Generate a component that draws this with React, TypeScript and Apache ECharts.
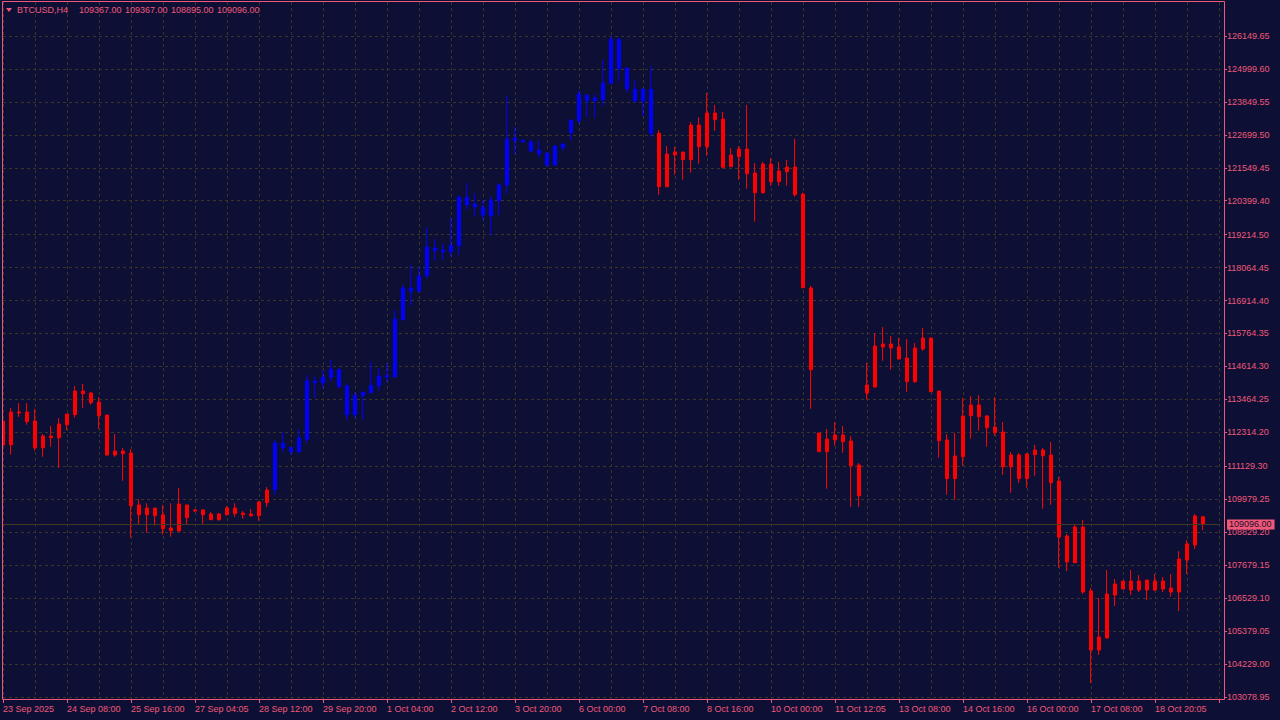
import React, { useEffect, useRef } from "react";
import * as echarts from "echarts";

// ---- data ----
const symbolName = "BTCUSD,H4";
const lastBarOHLC = ["109367.00", "109367.00", "108895.00", "109096.00"];
const currentPrice = 109096.0;

const timeLabels = [
  "23 Sep 2025", "24 Sep 08:00", "25 Sep 16:00", "27 Sep 04:05", "28 Sep 12:00",
  "29 Sep 20:00", "1 Oct 04:00", "2 Oct 12:00", "3 Oct 20:00", "6 Oct 00:00",
  "7 Oct 08:00", "8 Oct 16:00", "10 Oct 00:00", "11 Oct 12:05", "13 Oct 08:00",
  "14 Oct 16:00", "16 Oct 00:00", "17 Oct 08:00", "18 Oct 20:05",
];

const priceTicks = [
  126149.65, 124999.6, 123849.55, 122699.5, 121549.45, 120399.4, 119214.5,
  118064.45, 116914.4, 115764.35, 114614.3, 113464.25, 112314.2, 111129.3,
  109979.25, 108829.2, 107679.15, 106529.1, 105379.05, 104229.0, 103078.95,
];

// rows: [open, close, low, high]
const redBefore = [
  [112707, 111869, 111729, 112916], [111879, 113021, 111530, 113161],
  [113021, 112986, 112846, 113335], [113021, 112682, 112578, 113335],
  [112707, 111774, 111670, 113126], [111774, 112183, 111460, 112253],
  [112183, 112124, 111809, 112532], [112124, 112602, 111076, 112811],
  [112578, 112951, 112392, 112951], [112927, 113754, 112822, 113929],
  [113754, 113660, 113171, 113999], [113684, 113346, 113276, 113719],
  [113370, 112892, 112427, 113545], [112916, 111520, 111495, 112916],
  [111520, 111659, 111460, 112253], [111659, 111565, 110622, 111764],
  [111589, 109749, 108632, 111729], [109774, 109435, 109086, 109983],
  [109435, 109669, 108806, 109843], [109669, 109400, 109051, 109669],
  [109425, 108946, 108737, 109774], [108971, 108876, 108667, 109843],
  [108866, 109809, 108841, 110367], [109774, 109330, 109086, 109774],
  [109564, 109599, 109540, 109634], [109599, 109435, 109121, 109634],
  [109459, 109260, 109260, 109529], [109260, 109459, 109226, 109494],
  [109435, 109669, 109400, 109739], [109669, 109470, 109365, 109843],
  [109494, 109435, 109295, 109564], [109459, 109400, 109365, 109634],
  [109400, 109878, 109226, 109913], [109854, 110297, 109714, 110402],
];

const blueRun = [
  [110308, 111938, 110133, 112043], [111928, 111774, 111635, 112333],
  [111788, 111635, 111520, 111788], [111635, 112113, 111579, 112417],
  [112068, 114103, 111928, 114313], [114103, 114044, 113499, 114254],
  [114034, 114233, 113849, 114487], [114233, 114512, 114079, 114837],
  [114512, 113904, 113849, 114512], [113929, 112927, 112742, 114023],
  [112927, 113604, 112822, 113719], [113604, 113719, 112766, 113719],
  [113695, 113953, 113695, 114767], [113939, 114278, 113765, 114557],
  [114243, 114288, 114044, 114732], [114243, 116258, 114243, 116582],
  [116244, 117351, 116244, 117445], [117351, 117246, 116733, 118154],
  [117246, 117770, 117187, 118094], [117780, 118782, 117675, 119456],
  [118747, 118653, 118304, 119051], [118678, 118618, 118328, 118911],
  [118618, 118842, 118444, 119805], [118828, 120518, 118503, 120587],
  [120518, 120249, 120074, 121017], [120284, 120179, 119840, 120657],
  [120168, 119900, 119725, 120423], [119875, 120423, 119201, 120539],
  [120399, 120947, 119900, 121006], [120947, 122543, 120633, 124055],
  [122494, 122588, 122019, 122962], [122494, 122449, 122424, 122543],
  [122449, 122134, 122099, 122543], [122169, 122040, 121914, 122494],
  [122054, 121645, 121576, 122099], [121645, 122309, 121645, 122344],
  [122249, 122379, 122145, 122403], [122773, 123217, 122494, 123217],
  [123192, 124125, 123077, 124264], [124079, 123891, 123311, 124125],
  [123891, 123985, 123287, 124125], [123926, 124498, 123706, 125312],
  [124498, 126035, 124498, 126150], [126035, 125008, 124554, 126104],
  [125032, 124310, 124170, 125057], [124289, 123880, 123821, 124613],
  [123880, 124289, 123356, 124324], [124289, 122752, 122613, 125102],
];

const redAfter = [
  [122752, 120888, 120608, 122868], [120888, 122030, 120888, 122309],
  [121995, 122099, 121307, 122284], [122099, 121831, 121132, 122099],
  [121831, 123042, 121377, 123147], [123042, 122284, 121691, 123311],
  [122284, 123461, 121970, 124159], [123461, 123227, 122843, 123740],
  [123252, 121565, 121516, 123496], [121586, 121995, 121586, 122239],
  [121935, 122204, 121132, 122309], [122204, 121342, 120818, 123740],
  [121366, 120678, 119666, 121715], [120678, 121680, 120643, 121750],
  [121680, 121062, 120923, 121890], [121062, 121436, 120923, 121750],
  [121411, 121576, 120923, 121820], [121576, 120608, 120539, 122564],
  [120633, 117361, 117361, 120678], [117351, 114498, 113136, 117421],
  [112288, 111635, 111635, 112288], [111635, 112078, 110343, 112427],
  [112054, 112218, 111844, 112672], [112218, 111984, 111600, 112532],
  [112008, 111146, 109714, 112183], [111170, 110098, 109714, 111240],
  [113684, 113964, 113450, 114742], [113894, 115326, 113869, 115779],
  [115291, 115395, 114812, 115989], [115395, 115256, 114498, 115675],
  [115291, 114872, 114847, 115605], [114906, 114079, 113730, 115570],
  [114079, 115256, 114044, 115430], [115221, 115605, 115151, 115954],
  [115605, 113730, 113730, 115605], [113754, 112019, 111425, 113754],
  [112043, 110692, 110133, 112253], [110692, 111485, 109959, 112288],
  [111460, 112881, 111146, 113510], [112892, 113265, 112089, 113580],
  [113265, 112857, 112368, 113615], [112881, 112473, 111809, 112916],
  [112497, 112298, 112193, 113545], [112323, 111111, 110832, 112672],
  [111111, 111520, 110203, 111624], [111520, 110692, 110552, 111589],
  [110692, 111554, 110378, 111589], [111530, 111694, 110797, 111869],
  [111694, 111495, 109645, 111764], [111520, 110552, 109784, 111973],
  [110612, 108656, 107574, 110751], [108691, 107783, 107469, 108761],
  [107759, 109006, 107738, 109110], [109006, 106736, 106666, 109250],
  [106771, 104711, 103558, 106876], [104711, 105165, 104536, 106526],
  [105130, 106666, 105130, 107504], [106631, 107015, 106247, 107190],
  [107120, 106841, 106841, 107120], [106806, 107120, 106631, 107504],
  [107120, 106806, 106736, 107330], [106806, 107155, 106457, 107155],
  [107120, 106806, 106771, 107364], [106841, 107120, 106736, 107260],
  [106876, 106736, 106572, 107364], [106736, 107888, 106073, 108168],
  [107853, 108412, 107364, 108552], [108377, 109390, 108237, 109459],
  [109367, 109096, 108895, 109367],
];

// ---- layout / style ----
const BG = "#0d1034";
const PINK = "#f0587a";
const GRID = "#3a3526";
const PRICE_LINE = "#40381f";
const RED = "#ff0000";
const BLUE = "#0000ff";
const FONT = "Liberation Sans";
const BARS_PER_LABEL = 8;
const EMPTY_SLOTS = 2;
const Y_MIN = 103000.7;
const Y_MAX = 127336.9;

function styled(rows: number[][], color: string) {
  return rows.map((v) => ({
    value: v,
    itemStyle: {
      color,
      color0: color,
      borderColor: color,
      borderColor0: color,
      borderColorDoji: color,
      borderWidth: 1,
    },
  }));
}

export default function App() {
  const ref = useRef<HTMLDivElement>(null);

  useEffect(() => {
    if (!ref.current) return;
    const chart = echarts.init(ref.current, null, { renderer: "svg" });

    const data = [
      ...styled(redBefore, RED),
      ...styled(blueRun, BLUE),
      ...styled(redAfter, RED),
    ];
    const slots = Array.from({ length: data.length + EMPTY_SLOTS }, (_, i) => String(i));

    const headerTexts: any[] = [
      {
        type: "polygon",
        shape: { points: [[6, 8], [12, 8], [9, 12]] },
        style: { fill: PINK },
        z: 100,
      },
      {
        type: "text",
        x: 17,
        y: 10,
        style: { text: symbolName, fill: PINK, font: `9px "${FONT}"`, textVerticalAlign: "middle" },
        z: 100,
      },
      ...lastBarOHLC.map((t, i) => ({
        type: "text",
        x: 79 + i * 46,
        y: 10,
        style: { text: t, fill: PINK, font: `9px "${FONT}"`, textVerticalAlign: "middle" },
        z: 100,
      })),
    ];

    chart.setOption({
      animation: false,
      backgroundColor: BG,
      grid: { left: 3, top: 2, width: 1216, height: 697, containLabel: false },
      xAxis: {
        type: "category",
        data: slots,
        boundaryGap: false,
        axisLine: { show: false },
        axisTick: { show: true, interval: BARS_PER_LABEL - 1, length: 4, lineStyle: { color: PINK } },
        axisLabel: {
          interval: BARS_PER_LABEL - 1,
          formatter: (_v: string, i: number) =>
            i % BARS_PER_LABEL === 0 ? timeLabels[i / BARS_PER_LABEL] ?? "" : "",
          align: "left",
          color: PINK,
          fontFamily: FONT,
          fontSize: 9,
          margin: 5,
        },
        splitLine: { show: true, interval: 3, lineStyle: { color: GRID, width: 1, type: [3, 3] } },
      },
      yAxis: {
        type: "value",
        position: "right",
        min: Y_MIN,
        max: Y_MAX,
        offset: 5,
        axisLine: { show: false },
        axisTick: { show: true, customValues: priceTicks, length: 3, lineStyle: { color: PINK } },
        axisLabel: {
          customValues: priceTicks,
          formatter: (v: number) => v.toFixed(2),
          color: PINK,
          fontFamily: FONT,
          fontSize: 9,
          margin: 3,
        },
        splitLine: { show: true, lineStyle: { color: GRID, width: 1, type: [3, 3] } },
      },
      series: [
        {
          type: "candlestick",
          data,
          barWidth: 4,
          clip: true,
          markLine: {
            silent: true,
            symbol: ["none", "none"],
            lineStyle: { color: PRICE_LINE, width: 1, type: "solid" },
            label: {
              show: true,
              position: "end",
              distance: 8,
              formatter: currentPrice.toFixed(2),
              backgroundColor: PINK,
              color: "#1a0f2a",
              fontFamily: FONT,
              fontSize: 9,
              padding: [1, 3, 0, 2],
            },
            data: [{ yAxis: currentPrice }],
          },
        },
      ],
      graphic: [
        {
          type: "rect",
          shape: { x: 0, y: 0, width: 2, height: 720 },
          style: { fill: BG },
          z: 90,
        },
        {
          type: "rect",
          shape: { x: 2.5, y: 1.5, width: 1222, height: 698 },
          style: { fill: "none", stroke: PINK, lineWidth: 1 },
          z: 95,
        },
        ...headerTexts,
      ],
    });

    return () => chart.dispose();
  }, []);

  return (
    <div
      ref={ref}
      style={{ position: "fixed", left: 0, top: 0, width: 1280, height: 720, background: BG }}
    />
  );
}
